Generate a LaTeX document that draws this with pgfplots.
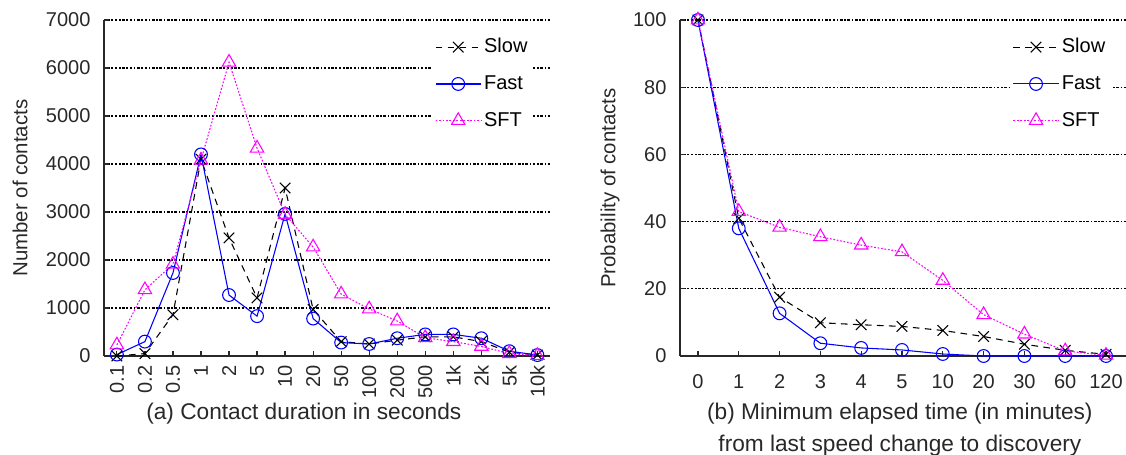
\documentclass[border=0pt]{standalone}
\usepackage{fontspec}
\setmainfont{Liberation Sans}
\usepackage{pgfplots}
\pgfplotsset{compat=1.18}
\usepackage{pgfplotstable}
\definecolor{sftmag}{RGB}{255,0,255}
\definecolor{fastblue}{RGB}{0,0,255}
\definecolor{axgray}{RGB}{40,40,40}

\pgfplotstableread{
x slow fast sft
0  0    30   230
1  50   300  1380
2  860  1730 1910
3  4100 4200 4080
4  2460 1270 6120
5  1210 830  4330
6  3500 2960 2950
7  970  780  2270
8  300  280  1290
9  250  250  980
10 330  370  730
11 400  450  380
12 400  450  300
13 300  370  200
14 80   100  50
15 20   20   10
}\tblA

\pgfplotstableread{
x slow fast sft
0  100  100  100
1  41   38   43
2  17.5 12.7 38.3
3  9.9  3.8  35.5
4  9.3  2.4  33
5  8.8  1.8  31
6  7.6  0.6  22.5
7  5.8  0    12.3
8  3.5  0    6.5
9  1.7  0    1.5
10 0.5  0    0.2
}\tblB

\pgfplotsset{
  myaxis/.style={
    scale only axis, width=334.5pt, height=252pt,
    anchor=south west,
    axis x line=bottom, axis y line=left,
    axis line style={-, draw=axgray, line width=1.1pt},
    tick style={axgray, line width=0.9pt},
    major tick length=4pt,
    tick align=inside,
    ymin=0,
    ymajorgrids,
    major grid style={black, line width=0.8pt, dash pattern=on 1.2pt off 1.2pt on 2pt off 1.2pt},
    clip=false,
    /pgf/number format/assume math mode=true,
    /pgf/number format/1000 sep={},
    tick label style={text=axgray, font=\fontsize{15}{18}\selectfont},
    label style={text=axgray},
    scaled y ticks=false,
    yticklabel style={xshift=-5pt},
    legend cell align=left,
    legend style={draw=none, fill=white, inner xsep=2pt, inner ysep=3pt,
      row sep=10.8pt, text=black, font=\fontsize{15}{18}\selectfont},
    legend image code/.code={
      \draw[mark repeat=2,mark phase=2] plot coordinates {(0pt,0pt) (17pt,0pt) (34pt,0pt)};
    },
  },
  slowst/.style={black, line width=0.8pt, dash pattern=on 5pt off 4pt, mark=x, mark size=5.6pt, mark options={solid, line width=0.8pt}},
  fastst/.style={fastblue, line width=0.8pt, solid, mark=o, mark size=4.8pt, mark options={solid, line width=0.8pt}},
  sftst/.style={sftmag, line width=0.8pt, dash pattern=on 1.3pt off 1.3pt, mark=triangle, mark size=5.8pt, mark options={solid, line width=0.8pt}},
}

\begin{document}
\fontsize{15}{18}\selectfont
\begin{tikzpicture}
\useasboundingbox (0,0) rectangle (844.5pt,340.5pt);
\begin{axis}[myaxis,
  at={(78pt,73.5pt)},
  xmin=-0.46, xmax=15.45,
  ymax=7000,
  ytick={0,1000,...,7000},
  xtick={0,...,15},
  xticklabels={0.1,0.2,0.5,1,2,5,10,20,50,100,200,500,1k,2k,5k,10k},
  xticklabel style={rotate=90, anchor=east, xshift=-2pt},
  xlabel={(a) Contact duration in seconds},
  xlabel style={at={(axis description cs:0.448,0)}, anchor=center, yshift=-43pt, font=\fontsize{17}{20}\selectfont},
  ylabel={Number of contacts},
  ylabel style={at={(axis description cs:-0.188,0.5)}, anchor=center, font=\fontsize{15.3}{18}\selectfont},
  legend style={at={(axis description cs:0.962,0.966)}, anchor=north east},
]
\addplot[slowst] table[x=x,y=slow]{\tblA};
\addlegendentry{Slow}
\addplot[fastst] table[x=x,y=fast]{\tblA};
\addlegendentry{Fast}
\addplot[sftst] table[x=x,y=sft]{\tblA};
\addlegendentry{SFT}
\end{axis}

\begin{axis}[myaxis,
  at={(510pt,73.5pt)},
  xmin=-0.44, xmax=10.49,
  ymax=100,
  ytick={0,20,...,100},
  xtick={0,...,10},
  xticklabels={0,1,2,3,4,5,10,20,30,60,120},
  xticklabel style={yshift=-9pt},
  xlabel={(b) Minimum elapsed time (in minutes)\\[4pt]from last speed change to discovery},
  xlabel style={align=center, at={(axis description cs:0.493,0)}, anchor=center, yshift=-55pt, font=\fontsize{17}{20}\selectfont},
  ylabel={Probability of contacts},
  ylabel style={at={(axis description cs:-0.157,0.5)}, anchor=center, font=\fontsize{15.3}{18}\selectfont},
  legend style={at={(axis description cs:0.966,0.966)}, anchor=north east},
]
\addplot[slowst] table[x=x,y=slow]{\tblB};
\addlegendentry{Slow}
\addplot[fastst] table[x=x,y=fast]{\tblB};
\addlegendentry{Fast}
\addplot[sftst] table[x=x,y=sft]{\tblB};
\addlegendentry{SFT}
\end{axis}
\end{tikzpicture}
\end{document}
